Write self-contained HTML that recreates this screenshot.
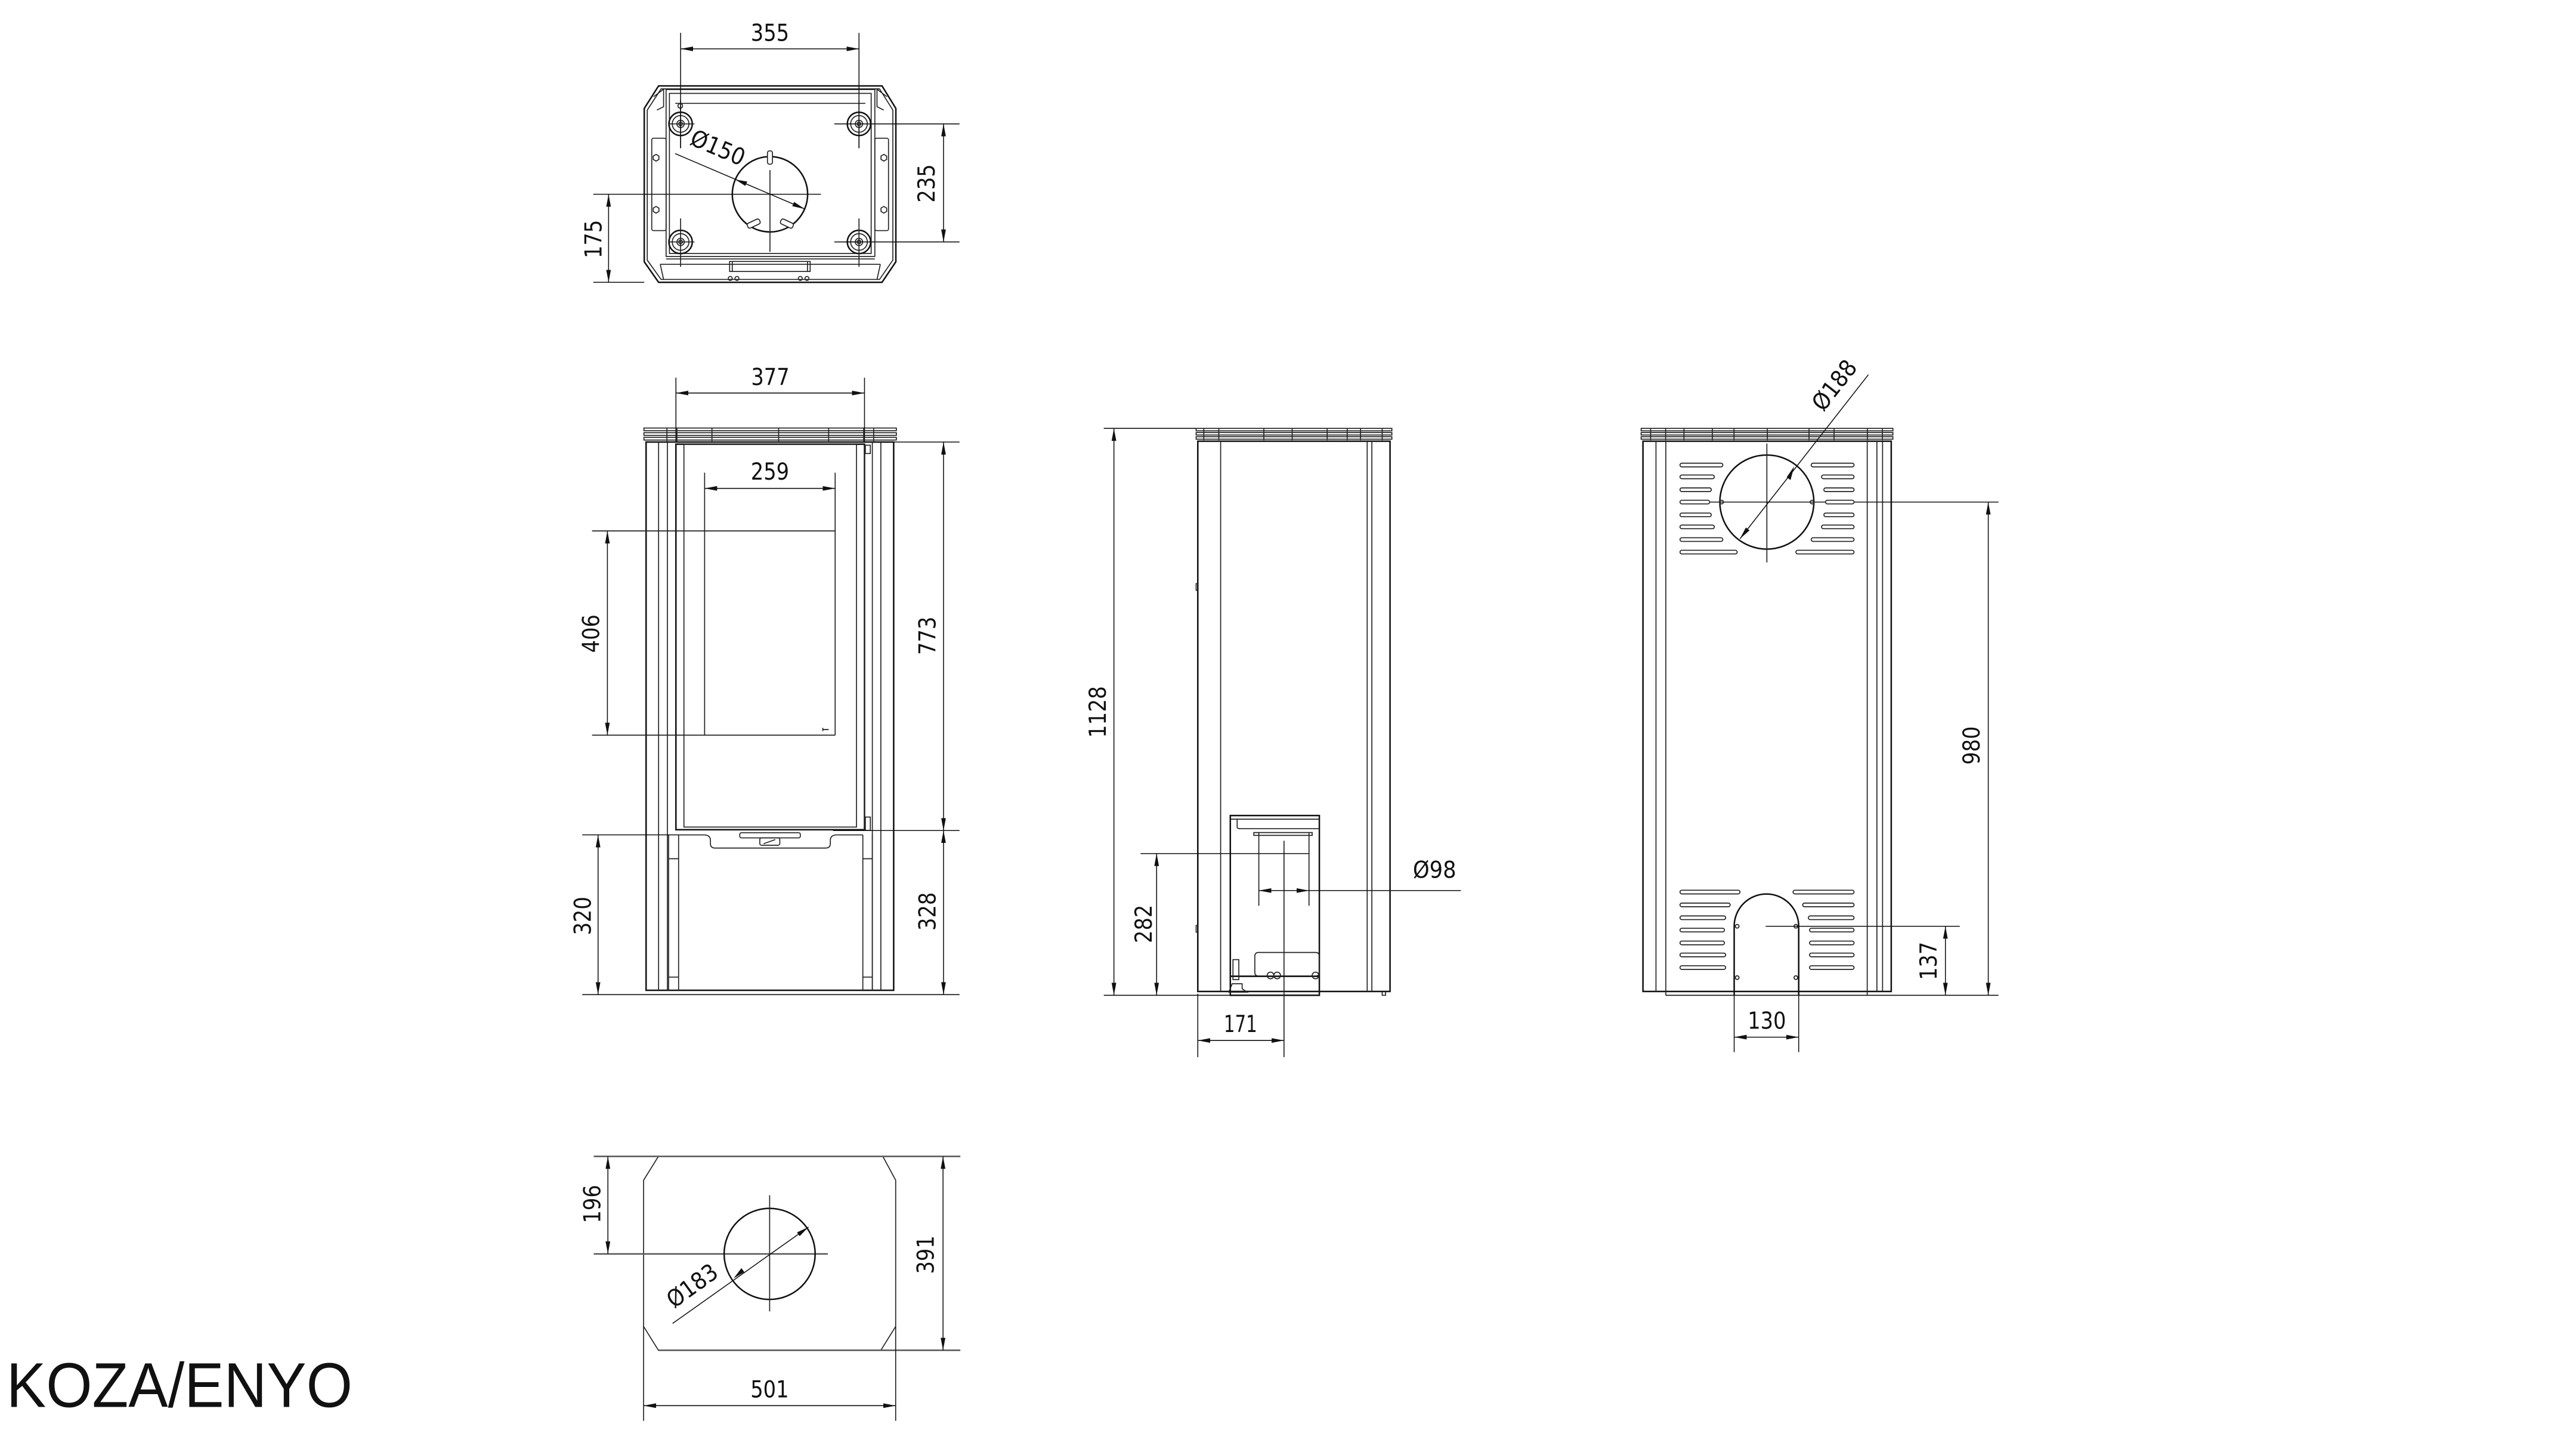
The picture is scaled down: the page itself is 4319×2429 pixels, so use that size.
<!DOCTYPE html>
<html><head><meta charset="utf-8"><style>
html,body{margin:0;padding:0;background:#fff}
svg{display:block}
text{font-family:"DejaVu Sans","Liberation Sans",sans-serif;font-size:14px;fill:#111}
.o{fill:none;stroke:#111;stroke-width:0.9}
.t{fill:none;stroke:#222;stroke-width:0.6}
.d{fill:none;stroke:#111;stroke-width:0.55}
.s{fill:#fff;stroke:#222;stroke-width:0.6}
</style></head><body>
<svg width="4319" height="2429" viewBox="0 0 1545 869" preserveAspectRatio="none" xmlns="http://www.w3.org/2000/svg">
<defs>
<marker id="a" markerUnits="userSpaceOnUse" markerWidth="8" markerHeight="3" refX="7.5" refY="1.4" orient="auto-start-reverse"><path d="M0,0 L7.5,1.4 L0,2.8 z" fill="#111"/></marker>
</defs>
<rect width="1545" height="869" fill="#fff"/>

<!-- ============ TOP VIEW ============ -->
<polygon class="o" points="395,51.5 529,51.5 537.3,65 537.3,157 529,169.3 395,169.3 386.4,157 386.4,65"/>
<polygon class="t" points="396.5,53.3 527.5,53.3 535.5,66 535.5,156 527.5,167.6 396.5,167.6 388.2,156 388.2,66"/>
<path class="t" d="M392,58 L398,53.5 L398,64 L394,66 M532,58 L526,53.5 L526,64 L530,66"/>
<rect class="t" x="399.5" y="53.7" width="125.2" height="100.1"/>
<rect class="t" x="401.5" y="56" width="121" height="96"/>
<line class="t" x1="405" y1="62" x2="519" y2="62"/>
<rect class="t" x="390.9" y="82.9" width="8.6" height="55.4" rx="1"/>
<rect class="t" x="524.7" y="82.9" width="8.2" height="55.4" rx="1"/>
<polygon class="t" points="393.5,92.6 395.2,93.6 395.2,95.6 393.5,96.6 391.8,95.6 391.8,93.6"/>
<polygon class="t" points="393.5,123.8 395.2,124.8 395.2,126.8 393.5,127.8 391.8,126.8 391.8,124.8"/>
<polygon class="t" points="530.1,92.6 531.8,93.6 531.8,95.6 530.1,96.6 528.4,95.6 528.4,93.6"/>
<polygon class="t" points="530.1,123.8 531.8,124.8 531.8,126.8 530.1,127.8 528.4,126.8 528.4,124.8"/>
<path class="t" d="M399.5,155.3 L524.7,155.3 M396,158.5 L528,158.5 M396,158.5 L398,167.6 M528,158.5 L526,167.6"/>
<rect class="t" x="437.6" y="156.8" width="48.3" height="6"/>
<line class="t" x1="439.2" y1="156.8" x2="439.2" y2="162.8"/><line class="t" x1="484.3" y1="156.8" x2="484.3" y2="162.8"/>
<circle class="t" cx="438" cy="167" r="1.2"/><circle class="t" cx="442" cy="167" r="1.2"/><circle class="t" cx="480" cy="167" r="1.2"/><circle class="t" cx="484" cy="167" r="1.2"/>
<g>
<circle class="o" cx="408.2" cy="74.3" r="7"/><circle class="t" cx="408.2" cy="74.3" r="5"/><circle class="t" cx="408.2" cy="74.3" r="2.2"/><circle class="t" cx="408.2" cy="74.3" r="1.1"/>
<circle class="o" cx="515.2" cy="74.3" r="7"/><circle class="t" cx="515.2" cy="74.3" r="5"/><circle class="t" cx="515.2" cy="74.3" r="2.2"/><circle class="t" cx="515.2" cy="74.3" r="1.1"/>
<circle class="o" cx="408.2" cy="145.1" r="7"/><circle class="t" cx="408.2" cy="145.1" r="5"/><circle class="t" cx="408.2" cy="145.1" r="2.2"/><circle class="t" cx="408.2" cy="145.1" r="1.1"/>
<circle class="o" cx="515.2" cy="145.1" r="7"/><circle class="t" cx="515.2" cy="145.1" r="5"/><circle class="t" cx="515.2" cy="145.1" r="2.2"/><circle class="t" cx="515.2" cy="145.1" r="1.1"/>
</g>
<path class="t" d="M401,74.3 H416.5 M408.2,88.9 V60 M401,145.1 H416.5 M408.2,131 V160 M507,145.1 H515.2 M515.2,131 V160 M515.2,60 V88.9"/>
<circle cx="408" cy="63.5" r="1.4" class="t"/>
<circle class="o" cx="461.8" cy="116.5" r="22.6"/>
<path class="t" d="M461.8,102 V151"/>
<rect class="s" x="460.3" y="90.5" width="3" height="8" rx="1.2"/>
<rect class="s" x="448" y="132.5" width="8" height="3.2" rx="1.2" transform="rotate(-25 452 134)"/>
<rect class="s" x="468" y="132.5" width="8" height="3.2" rx="1.2" transform="rotate(25 472 134)"/>
<line class="d" x1="408.2" y1="19.7" x2="408.2" y2="88.9"/>
<line class="d" x1="515.2" y1="19.7" x2="515.2" y2="88.9"/>
<line class="d" x1="408.2" y1="29.3" x2="515.2" y2="29.3" marker-start="url(#a)" marker-end="url(#a)"/>
<text x="461.8" y="24.5" text-anchor="middle" textLength="23" lengthAdjust="spacingAndGlyphs">355</text>
<line class="d" x1="500.4" y1="74.3" x2="575.5" y2="74.3"/>
<line class="d" x1="500.4" y1="145.1" x2="575.5" y2="145.1"/>
<line class="d" x1="565.9" y1="74.3" x2="565.9" y2="145.1" marker-start="url(#a)" marker-end="url(#a)"/>
<text transform="translate(560.5,110) rotate(-90)" text-anchor="middle" textLength="23" lengthAdjust="spacingAndGlyphs">235</text>
<line class="d" x1="355.8" y1="116.5" x2="492.4" y2="116.5"/>
<line class="d" x1="355.8" y1="169.3" x2="386.4" y2="169.3"/>
<line class="d" x1="365" y1="116.5" x2="365" y2="169.3" marker-start="url(#a)" marker-end="url(#a)"/>
<text transform="translate(360.8,143.4) rotate(-90)" text-anchor="middle" textLength="23" lengthAdjust="spacingAndGlyphs">175</text>
<line class="d" x1="404.9" y1="92.1" x2="482.6" y2="125.3" marker-end="url(#a)"/>
<path d="M441,107.7 L448.2,108.9 L447,111.5 z" fill="#111"/>
<text transform="translate(428.7,93) rotate(23)" text-anchor="middle" textLength="34" lengthAdjust="spacingAndGlyphs">Ø150</text>

<!-- ============ FRONT VIEW ============ -->
<rect class="t" x="386.2" y="256.7" width="151.4" height="1.6"/>
<rect class="t" x="386.2" y="259.5" width="151.4" height="1.6"/>
<rect class="t" x="386.2" y="262.3" width="151.4" height="1.6"/>
<path class="t" d="M400,256.7 V264.6 M524,256.7 V264.6 M427,256.7V264.6 M467,256.7V264.6 M497,256.7V264.6 M406,256.7V264.6 M518,256.7V264.6"/>
<rect class="o" x="387.5" y="265.1" width="148.5" height="328.8"/>
<path class="t" d="M395,265.1 V593.9 M400.3,265.1 V593.9 M523.2,265.1 V593.9 M528.3,265.1 V593.9"/>
<rect class="o" x="405.4" y="266.4" width="113.1" height="231.2"/>
<rect class="t" x="410.2" y="266.4" width="103.5" height="229.6"/>
<line class="t" x1="518.5" y1="266.4" x2="518.5" y2="497.6"/>
<rect class="t" x="519" y="267" width="3" height="5"/>
<rect class="t" x="519" y="490" width="3" height="8"/>
<line class="t" x1="355.1" y1="318.4" x2="500.9" y2="318.4"/>
<line class="t" x1="355.1" y1="440.9" x2="500.9" y2="440.9"/>
<line class="t" x1="422.6" y1="283.5" x2="422.6" y2="440.9"/>
<line class="t" x1="500.9" y1="283.5" x2="500.9" y2="440.9"/>
<path class="t" d="M493.5,437.5 h3.5 M493.5,436.5 v2"/>
<path class="t" d="M407,500.7 H422 Q426.1,500.7 426.1,504 V506 Q426.1,508.6 429,508.6 H495 Q498,508.6 498,506 V504 Q498,500.7 502,500.7 H517.5"/>
<rect class="t" x="443.7" y="499.4" width="36.3" height="3.1" rx="1"/>
<rect class="t" x="455.7" y="502.5" width="12" height="4.4" rx="1"/>
<line class="t" x1="458" y1="506" x2="465" y2="503.5"/>
<path class="t" d="M407,500.7 V593.9 M517.5,500.7 V593.9 M401,500.7 V593.9 M523.2,500.7 V593.9 M401,515 H407 M517.5,515 H523 M517.5,586 H523 M401,586 H407"/>
<line class="d" x1="349.2" y1="596.5" x2="575.5" y2="596.5"/>
<line class="d" x1="405.4" y1="226.5" x2="405.4" y2="265"/>
<line class="d" x1="518.5" y1="226.5" x2="518.5" y2="265"/>
<line class="d" x1="405.4" y1="235.7" x2="518.5" y2="235.7" marker-start="url(#a)" marker-end="url(#a)"/>
<text x="462" y="231" text-anchor="middle" textLength="23" lengthAdjust="spacingAndGlyphs">377</text>
<line class="d" x1="422.6" y1="292.9" x2="500.9" y2="292.9" marker-start="url(#a)" marker-end="url(#a)"/>
<text x="461.8" y="287.6" text-anchor="middle" textLength="23" lengthAdjust="spacingAndGlyphs">259</text>
<line class="d" x1="364.3" y1="318.4" x2="364.3" y2="440.9" marker-start="url(#a)" marker-end="url(#a)"/>
<text transform="translate(359.3,380) rotate(-90)" text-anchor="middle" textLength="23" lengthAdjust="spacingAndGlyphs">406</text>
<line class="d" x1="518.8" y1="265.1" x2="575.5" y2="265.1"/>
<line class="d" x1="499.6" y1="498.1" x2="575.5" y2="498.1"/>
<line class="d" x1="565.9" y1="265.1" x2="565.9" y2="498.1" marker-start="url(#a)" marker-end="url(#a)"/>
<text transform="translate(561,381.3) rotate(-90)" text-anchor="middle" textLength="23" lengthAdjust="spacingAndGlyphs">773</text>
<line class="d" x1="565.9" y1="498.1" x2="565.9" y2="596.5" marker-start="url(#a)" marker-end="url(#a)"/>
<text transform="translate(561,546.6) rotate(-90)" text-anchor="middle" textLength="23" lengthAdjust="spacingAndGlyphs">328</text>
<line class="d" x1="349.2" y1="500.7" x2="407" y2="500.7"/>
<line class="d" x1="358.7" y1="500.7" x2="358.7" y2="596.5" marker-start="url(#a)" marker-end="url(#a)"/>
<text transform="translate(354.3,549.3) rotate(-90)" text-anchor="middle" textLength="23" lengthAdjust="spacingAndGlyphs">320</text>

<!-- ============ SIDE VIEW ============ -->
<rect class="t" x="717.4" y="256.9" width="117.4" height="1.5"/>
<rect class="t" x="717.4" y="259.4" width="117.4" height="1.5"/>
<rect class="t" x="717.4" y="261.9" width="117.4" height="1.5"/>
<path class="t" d="M722,256.9V264 M731,256.9V264 M758,256.9V264 M775,256.9V264 M796,256.9V264 M808,256.9V264 M816,256.9V264 M829,256.9V264"/>
<rect class="o" x="718.4" y="264.6" width="115.3" height="330"/>
<path class="t" d="M732.1,264.6 V594.6 M820,264.6 V594.6 M822.8,264.6 V594.6"/>
<path class="t" d="M718.4,350 h-1 v4 h1 M718.4,555 h-1 v4 h1"/>
<rect class="o" x="737.9" y="489.1" width="53.4" height="107.8"/>
<path class="t" d="M737.9,491.3 H791.3 M742,491.3 V496 Q742,497 744,497 H791.3 M752,499.3 H787 V501 H752 z"/>
<line class="t" x1="755" y1="499.3" x2="755" y2="543.2"/>
<line class="t" x1="785.1" y1="499.3" x2="785.1" y2="543.2"/>
<line class="t" x1="770.1" y1="504.2" x2="770.1" y2="634"/>
<rect class="t" x="752.6" y="571.2" width="38.7" height="14.2" rx="2"/>
<path class="o" d="M737.9,585.5 H791.3"/>
<rect class="t" x="739.5" y="575.5" width="3.5" height="12"/>
<path class="t" d="M739,590 h6 v3 l3,2 h-11 z"/>
<circle class="t" cx="762" cy="585" r="2"/><circle class="t" cx="766" cy="585" r="2"/><circle class="t" cx="789" cy="585" r="2"/>
<path class="t" d="M829,594.6 v2.3 h2 v-2.3"/>
<line class="d" x1="662" y1="256.9" x2="717.4" y2="256.9"/>
<line class="d" x1="662" y1="596.9" x2="737.9" y2="596.9"/>
<line class="d" x1="668.1" y1="256.9" x2="668.1" y2="596.9" marker-start="url(#a)" marker-end="url(#a)"/>
<text transform="translate(663.2,427) rotate(-90)" text-anchor="middle" textLength="31" lengthAdjust="spacingAndGlyphs">1128</text>
<line class="d" x1="684.1" y1="511.9" x2="785.1" y2="511.9"/>
<line class="d" x1="693.7" y1="511.9" x2="693.7" y2="596.9" marker-start="url(#a)" marker-end="url(#a)"/>
<text transform="translate(690.8,554.1) rotate(-90)" text-anchor="middle" textLength="23" lengthAdjust="spacingAndGlyphs">282</text>
<line class="d" x1="755" y1="534.1" x2="785.1" y2="534.1" marker-start="url(#a)" marker-end="url(#a)"/>
<line class="d" x1="785.1" y1="534.1" x2="876.2" y2="534.1"/>
<text x="860.4" y="526.5" text-anchor="middle" textLength="26" lengthAdjust="spacingAndGlyphs">Ø98</text>
<line class="d" x1="718.4" y1="596" x2="718.4" y2="634"/>
<line class="d" x1="718.4" y1="624" x2="770.1" y2="624" marker-start="url(#a)" marker-end="url(#a)"/>
<text x="744" y="619" text-anchor="middle" textLength="20" lengthAdjust="spacingAndGlyphs">171</text>

<!-- ============ REAR VIEW ============ -->
<rect class="t" x="984.3" y="256.9" width="151" height="1.5"/>
<rect class="t" x="984.3" y="259.4" width="151" height="1.5"/>
<rect class="t" x="984.3" y="261.9" width="151" height="1.5"/>
<path class="t" d="M990,256.9V264 M999,256.9V264 M1010,256.9V264 M1027,256.9V264 M1040,256.9V264 M1060,256.9V264 M1085,256.9V264 M1100,256.9V264 M1120,256.9V264 M1129,256.9V264"/>
<rect class="o" x="985.4" y="264.6" width="148.9" height="330"/>
<path class="t" d="M993.2,264.6 V594.6 M999.1,264.6 V596.9 M1119.9,264.6 V596.9 M1125.7,264.6 V594.6 M1129.1,264.6 V594.6"/>
<line class="d" x1="999.1" y1="596.9" x2="1198.6" y2="596.9"/>
<circle class="o" cx="1059.7" cy="301.1" r="28.2"/>
<line class="t" x1="1059.7" y1="266" x2="1059.7" y2="337.3"/>
<line class="d" x1="1024.7" y1="301.1" x2="1198.6" y2="301.1"/>
<circle class="t" cx="1032.6" cy="301.1" r="1.1"/><circle class="t" cx="1086.8" cy="301.1" r="1.1"/>
<g class="s">
<rect x="1007.6" y="277.8" width="25.7" height="2.2" rx="1.1"/>
<rect x="1007.6" y="284.9" width="20.6" height="2.2" rx="1.1"/>
<rect x="1007.6" y="292.6" width="18.8" height="2.2" rx="1.1"/>
<rect x="1007.6" y="300" width="17.8" height="2.2" rx="1.1"/>
<rect x="1007.6" y="307.7" width="18.8" height="2.2" rx="1.1"/>
<rect x="1007.6" y="314.9" width="20.6" height="2.2" rx="1.1"/>
<rect x="1007.6" y="322.5" width="25.7" height="2.2" rx="1.1"/>
<rect x="1007.6" y="330" width="34.3" height="2.2" rx="1.1"/>
<rect x="1086.3" y="277.8" width="25.7" height="2.2" rx="1.1"/>
<rect x="1092.5" y="284.9" width="19.5" height="2.2" rx="1.1"/>
<rect x="1093.9" y="292.6" width="18.1" height="2.2" rx="1.1"/>
<rect x="1094.9" y="300" width="17.1" height="2.2" rx="1.1"/>
<rect x="1093.9" y="307.7" width="18.1" height="2.2" rx="1.1"/>
<rect x="1092.5" y="314.9" width="19.5" height="2.2" rx="1.1"/>
<rect x="1086.3" y="322.5" width="25.7" height="2.2" rx="1.1"/>
<rect x="1077.1" y="330" width="34.9" height="2.2" rx="1.1"/>
<rect x="1007.6" y="533.9" width="36" height="2.2" rx="1.1"/>
<rect x="1007.6" y="541.6" width="30.1" height="2.2" rx="1.1"/>
<rect x="1007.6" y="549.3" width="27.4" height="2.2" rx="1.1"/>
<rect x="1007.6" y="556.7" width="26.7" height="2.2" rx="1.1"/>
<rect x="1007.6" y="564.4" width="26.7" height="2.2" rx="1.1"/>
<rect x="1007.6" y="571.6" width="27.4" height="2.2" rx="1.1"/>
<rect x="1007.6" y="579.2" width="27.4" height="2.2" rx="1.1"/>
<rect x="1075.4" y="533.9" width="36.6" height="2.2" rx="1.1"/>
<rect x="1081.2" y="541.6" width="30.8" height="2.2" rx="1.1"/>
<rect x="1084.6" y="549.3" width="27.4" height="2.2" rx="1.1"/>
<rect x="1085.3" y="556.7" width="26.7" height="2.2" rx="1.1"/>
<rect x="1085.3" y="564.4" width="26.7" height="2.2" rx="1.1"/>
<rect x="1085.3" y="571.6" width="26.7" height="2.2" rx="1.1"/>
<rect x="1085.3" y="579.2" width="26.7" height="2.2" rx="1.1"/>
</g>
<path class="o" d="M1040.1,596.9 V555.5 A19.35,19.35 0 0 1 1078.8,555.5 V596.9"/>
<circle class="t" cx="1041.9" cy="555.5" r="1.1"/><circle class="t" cx="1077.1" cy="555.5" r="1.1"/>
<circle class="t" cx="1041.9" cy="586.3" r="1.1"/><circle class="t" cx="1077.1" cy="586.3" r="1.1"/>
<line class="d" x1="1059" y1="555.5" x2="1175.4" y2="555.5"/>
<line class="d" x1="1166.8" y1="555.5" x2="1166.8" y2="596.9" marker-start="url(#a)" marker-end="url(#a)"/>
<text transform="translate(1161.5,576.3) rotate(-90)" text-anchor="middle" textLength="23" lengthAdjust="spacingAndGlyphs">137</text>
<line class="d" x1="1192.5" y1="301.1" x2="1192.5" y2="596.9" marker-start="url(#a)" marker-end="url(#a)"/>
<text transform="translate(1187.2,447.1) rotate(-90)" text-anchor="middle" textLength="23" lengthAdjust="spacingAndGlyphs">980</text>
<line class="d" x1="1040.1" y1="597" x2="1040.1" y2="631"/>
<line class="d" x1="1078.8" y1="597" x2="1078.8" y2="631"/>
<line class="d" x1="1040.1" y1="622" x2="1078.8" y2="622" marker-start="url(#a)" marker-end="url(#a)"/>
<text x="1059.7" y="617" text-anchor="middle" textLength="23" lengthAdjust="spacingAndGlyphs">130</text>
<line class="d" x1="1120.6" y1="224.7" x2="1043.6" y2="323.1" marker-end="url(#a)"/>
<path d="M1076.1,279.7 L1071.6,286.2 L1073.9,287.9 z" fill="#111"/>
<text transform="translate(1104,234) rotate(-52)" text-anchor="middle" textLength="34" lengthAdjust="spacingAndGlyphs">Ø188</text>

<!-- ============ BOTTOM VIEW ============ -->
<polygon class="t" points="394.9,693.5 529.5,693.5 537.2,707.8 537.2,795.5 528.3,809.8 394.9,809.8 386,795.5 386,707.8"/>
<line x1="356.1" y1="693.5" x2="576" y2="693.5" stroke="#555" stroke-width="0.9"/>
<line x1="394.9" y1="809.8" x2="576" y2="809.8" stroke="#555" stroke-width="0.9"/>
<line x1="356.1" y1="752" x2="496.5" y2="752" stroke="#555" stroke-width="0.9"/>
<circle class="o" cx="461.6" cy="752" r="27.3"/>
<line class="t" x1="461.6" y1="716.8" x2="461.6" y2="786.5"/>
<line class="d" x1="364.6" y1="693.5" x2="364.6" y2="752" marker-start="url(#a)" marker-end="url(#a)"/>
<text transform="translate(360,722.1) rotate(-90)" text-anchor="middle" textLength="23" lengthAdjust="spacingAndGlyphs">196</text>
<line class="d" x1="565.6" y1="693.5" x2="565.6" y2="809.8" marker-start="url(#a)" marker-end="url(#a)"/>
<text transform="translate(560,752.5) rotate(-90)" text-anchor="middle" textLength="23" lengthAdjust="spacingAndGlyphs">391</text>
<line class="d" x1="386" y1="795.5" x2="386" y2="852.1"/>
<line class="d" x1="537.2" y1="795.5" x2="537.2" y2="852.1"/>
<line class="d" x1="386" y1="843" x2="537.2" y2="843" marker-start="url(#a)" marker-end="url(#a)"/>
<text x="461.6" y="838" text-anchor="middle" textLength="23" lengthAdjust="spacingAndGlyphs">501</text>
<line class="d" x1="403.4" y1="793.7" x2="484.9" y2="735.9" marker-end="url(#a)"/>
<path d="M440,766.7 L446.4,762.9 L444.7,760.5 z" fill="#111"/>
<text transform="translate(418,775) rotate(-36)" text-anchor="middle" textLength="34" lengthAdjust="spacingAndGlyphs">Ø183</text>

<text x="3.9" y="843.8" textLength="207.5" lengthAdjust="spacingAndGlyphs" style="font-family:'Liberation Sans',sans-serif;font-size:38px;fill:#111">KOZA/ENYO</text>
</svg>
</body></html>
